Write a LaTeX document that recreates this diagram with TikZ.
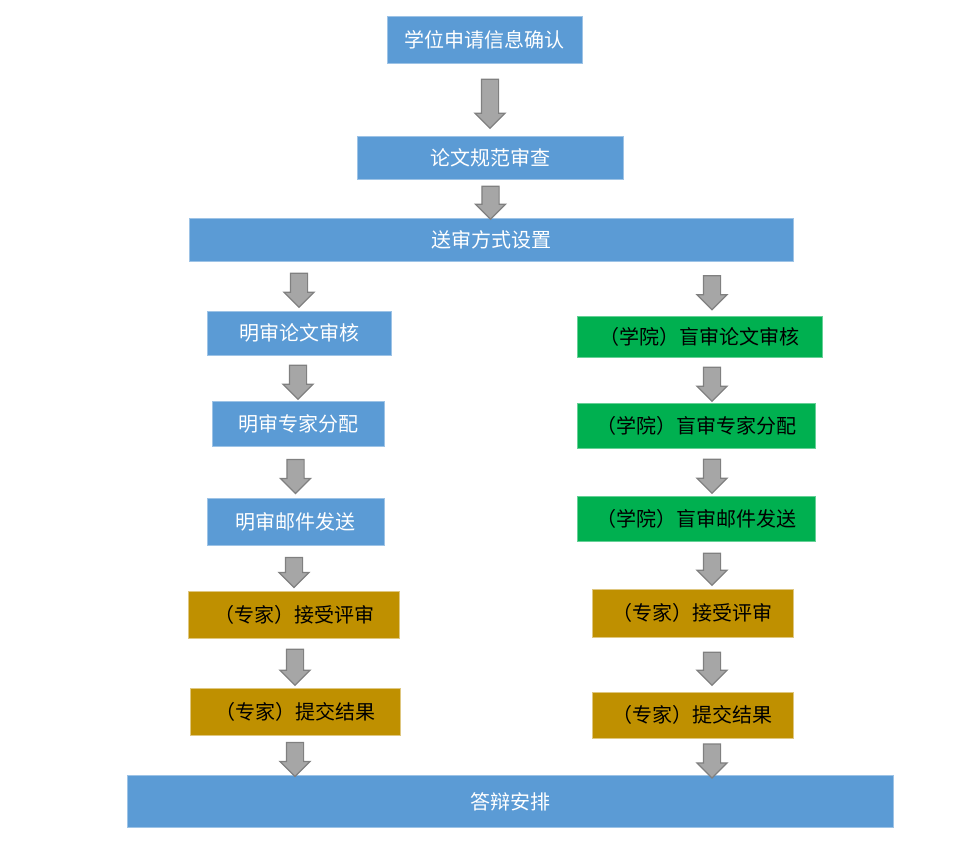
\documentclass[tikz,border=0pt]{standalone}
\usepackage{fontspec}
\setmainfont{Noto Sans CJK SC}
\usetikzlibrary{shapes.arrows,positioning}

\definecolor{stageblue}{RGB}{91,155,213}
\definecolor{stagegreen}{RGB}{0,176,80}
\definecolor{stagegold}{RGB}{191,144,0}
\definecolor{arrowfill}{RGB}{166,166,166}
\definecolor{arrowedge}{RGB}{128,128,128}

\tikzset{
  stage/.style={rectangle, inner sep=0pt, line width=0.8pt,
    font=\fontsize{20}{24}\selectfont},
  bluestage/.style={stage, fill=stageblue, draw=stageblue!60!white, text=white},
  greenstage/.style={stage, fill=stagegreen, draw=stagegreen!60!white, text=black},
  goldstage/.style={stage, fill=stagegold, draw=stagegold!50!white, text=black},
  down/.style={single arrow, rotate=-90, inner sep=8pt, fill=arrowfill,
    draw=arrowedge, line width=1.2pt, minimum width=29, minimum height=34,
    single arrow head extend=6.5pt, single arrow head indent=0pt}
}

\begin{document}
\begin{tikzpicture}[x=1pt,y=-1pt]
  \useasboundingbox (0,0) rectangle (969,851);
  % common part
  \node[bluestage, minimum width=195, minimum height=47] (apply) at (484.5,39.5) {学位申请信息确认};
  \node[bluestage, minimum width=266, minimum height=43] (format) at (490,157.5) {论文规范审查};
  \node[bluestage, minimum width=604, minimum height=43] (mode) at (491,239.5) {送审方式设置};
  % open review
  \node[bluestage, minimum width=184, minimum height=44] (openaudit) at (299,333) {明审论文审核};
  \node[bluestage, minimum width=172, minimum height=45] (openassign) at (298,423.5) {明审专家分配};
  \node[bluestage, minimum width=177, minimum height=47] (openmail) at (295.5,522) {明审邮件发送};
  \node[goldstage, minimum width=211, minimum height=47] (openaccept) at (294,614.5) {（专家）接受评审};
  \node[goldstage, minimum width=210, minimum height=47] (opensubmit) at (295,711.5) {（专家）提交结果};
  % blind review
  \node[greenstage, minimum width=245, minimum height=41] (blindaudit) at (699.5,336.5) {（学院）盲审论文审核};
  \node[greenstage, minimum width=238, minimum height=45] (blindassign) at (696,425.5) {（学院）盲审专家分配};
  \node[greenstage, minimum width=238, minimum height=45] (blindmail) at (696,518.5) {（学院）盲审邮件发送};
  \node[goldstage, minimum width=201, minimum height=48] (blindaccept) at (692.5,613) {（专家）接受评审};
  \node[goldstage, minimum width=201, minimum height=46] (blindsubmit) at (692.5,715) {（专家）提交结果};
  \node[bluestage, minimum width=766, minimum height=52] (defense) at (510,801.5) {答辩安排};
  \coordinate (rcol) at (712,0);
  % arrows
  \path (apply.south -| format) -- node[down, minimum height=49] {} (format.north);
  \path (format.south) -- node[down, minimum height=33] {} (mode.north);
  \path (mode.south -| openaudit) -- node[down] {} (openaudit.north);
  \path (openaudit.south -| openassign) -- node[down] {} (openassign.north);
  \path (openassign.south -| openmail) -- node[down] {} (openmail.north);
  \path (openmail.south -| openaccept) -- node[down, minimum height=30] {} (openaccept.north);
  \path (openaccept.south -| opensubmit) -- node[down, minimum height=36] {} (opensubmit.north);
  \path (opensubmit.south -| opensubmit) -- node[down] {} (defense.north -| opensubmit);
  \path (mode.south -| rcol) -- node[down] {} (blindaudit.north -| rcol);
  \path (blindaudit.south -| rcol) -- node[down] {} (blindassign.north -| rcol);
  \path (blindassign.south -| rcol) -- node[down] {} (blindmail.north -| rcol);
  \path (blindmail.south -| rcol) -- node[down, minimum height=32] {} (blindaccept.north -| rcol);
  \path (blindaccept.south -| rcol) -- node[down, minimum height=33] {} (blindsubmit.north -| rcol);
  \path (blindsubmit.south -| rcol) -- node[down] {} (defense.north -| rcol);
\end{tikzpicture}
\end{document}
